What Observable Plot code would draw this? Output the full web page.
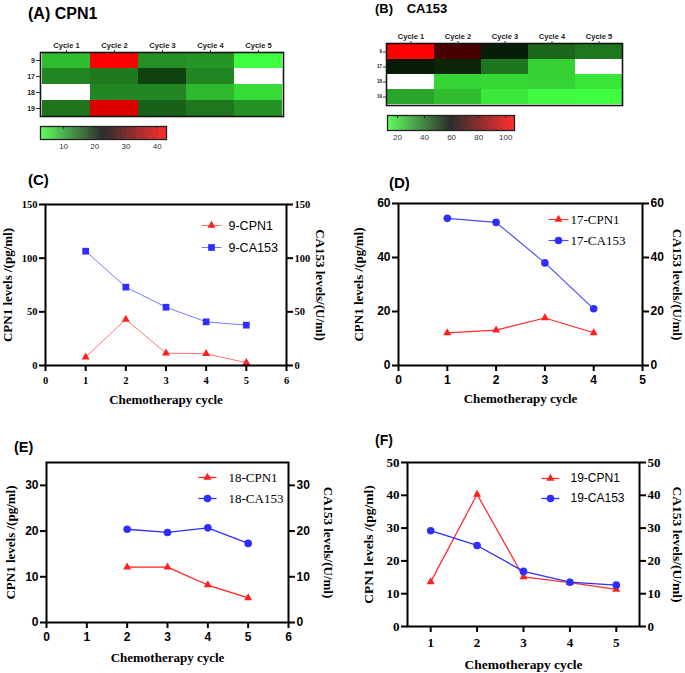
<!DOCTYPE html>
<html><head><meta charset="utf-8">
<script src="https://cdn.jsdelivr.net/npm/d3@7"></script>
<script src="https://cdn.jsdelivr.net/npm/@observablehq/plot@0.6"></script>
<style>
html,body{margin:0;padding:0;background:#fff}
#fig{position:relative;width:685px;height:673px;overflow:hidden;background:#fff}
.panel{position:absolute}
.panel svg{background:transparent !important;overflow:visible}
.ttl{position:absolute;font-family:"Liberation Sans",Arial,sans-serif;font-weight:bold;line-height:1;white-space:pre;color:#000}
</style></head>
<body><div id="fig"></div>
<script>
// ---------- data ----------
const cycles = [1, 2, 3, 4, 5];
const cycleLabels = ["Cycle 1", "Cycle 2", "Cycle 3", "Cycle 4", "Cycle 5"];
const patients = ["9", "17", "18", "19"];

const cpn1_9   = [7.8, 43, 11.5, 11, 2.6];
const ca153_9  = [106.5, 73, 54.3, 40.7, 37.6];
const cpn1_17  = [12.1, 13.1, 17.6, 12.1, null];
const ca153_17 = [54.5, 53, 38, 21, null];
const cpn1_18  = [null, 12.1, 12.1, 8.2, 5.4];
const ca153_18 = [null, 20.4, 19.7, 20.7, 17.3];
const cpn1_19  = [13.6, 40.3, 15.1, 13.4, 11.3];
const ca153_19 = [29.2, 24.7, 16.8, 13.5, 12.6];

const barTicksA = [10, 20, 30, 40];
const barTicksB = [20, 40, 60, 80, 100];
const ticksXC = [0, 1, 2, 3, 4, 5, 6], ticksYC = [0, 50, 100, 150];
const ticksXD = [0, 1, 2, 3, 4, 5],    ticksYD = [0, 20, 40, 60];
const ticksXE = [0, 1, 2, 3, 4, 5, 6], ticksYE = [0, 10, 20, 30];
const ticksXF = [1, 2, 3, 4, 5],       ticksYF = [0, 10, 20, 30, 40, 50];

// ---------- helpers ----------
const SANS = "'Liberation Sans', Arial, sans-serif";
const SERIF = "'Liberation Serif', 'Times New Roman', serif";
const fig = document.getElementById("fig");
const heatInterp = d3.piecewise(d3.interpolateRgb, ["#40ff40", "#000000", "#ff0000"]);
const fmt = d => String(d);

function place(node, left, top, width) {
  const div = document.createElement("div");
  div.className = "panel";
  div.style.left = left + "px"; div.style.top = top + "px"; div.style.width = width + "px";
  div.appendChild(node);
  fig.appendChild(div);
}
function title(text, left, top, size, extra) {
  const d = document.createElement("div");
  d.className = "ttl";
  d.style.left = left + "px"; d.style.top = top + "px"; d.style.fontSize = size + "px";
  if (extra) Object.assign(d.style, extra);
  d.textContent = text;
  fig.appendChild(d);
}

function heatmap(o) {
  const rows = [o.r9, o.r17, o.r18, o.r19];
  const data = patients.flatMap((p, j) => cycleLabels.map((c, i) => ({patient: p, cycle: c, value: rows[j][i]})))
    .filter(d => d.value != null);
  const ext = d3.extent(data, d => d.value);
  const color = {type: "linear", domain: ext, interpolate: heatInterp};
  const hm = Plot.plot({
    width: o.w, height: o.h,
    marginLeft: o.ml, marginRight: o.mr, marginTop: o.mt, marginBottom: o.mb,
    style: {background: "transparent", overflow: "visible"},
    x: {domain: cycleLabels, padding: 0},
    y: {domain: patients, padding: 0},
    color,
    marks: [
      Plot.cell(data, {x: "cycle", y: "patient", fill: "value", inset: 0, shapeRendering: "crispEdges"}),
      Plot.frame({stroke: "#151515", strokeWidth: 1.6}),
      Plot.axisX({anchor: "top", tickSize: 3, tickPadding: 2, label: null, fontSize: 7.5, fontWeight: "bold",
        fontFamily: SANS, fill: "#222", stroke: "#333"}),
      Plot.axisY({anchor: "left", tickSize: o.ytick, tickPadding: 1.5, label: null, fontSize: o.yfs, fontWeight: "bold",
        fontFamily: SANS, fill: "#222", stroke: "#333"})
    ]
  });
  place(hm, o.left, o.top, o.w);

  const [lo, hi] = ext, n = 240, step = (hi - lo) / n;
  const stops = d3.range(n).map(i => lo + i * step);
  const bar = Plot.plot({
    width: o.bw, height: o.bh,
    marginLeft: o.bml, marginRight: o.bmr, marginTop: o.bmt, marginBottom: o.bmb,
    style: {background: "transparent", overflow: "visible"},
    x: {domain: [lo, hi]},
    y: {domain: [0, 1], axis: null},
    color,
    marks: [
      Plot.rect(stops, {x1: d => d, x2: d => d + step * 1.2, y1: 0, y2: 1, fill: d => d + step / 2}),
      Plot.ruleX(o.barTicks, {x: d => d, y1: 1, y2: 0.8, stroke: "#222", strokeWidth: 1}),
      Plot.frame({stroke: "#222", strokeWidth: 1.3}),
      Plot.axisX({ticks: o.barTicks, tickSize: 0, tickPadding: o.bpad, tickFormat: fmt, label: null, fontSize: 8,
        fontFamily: SANS, fill: "#333"})
    ]
  });
  place(bar, o.bleft, o.btop, o.bw);
}

const lineSym = {draw(ctx, size) { const w = Math.sqrt(size / Math.PI); ctx.moveTo(-w, 0); ctx.lineTo(w, 0); }};

function linePanel(o) {
  const cpn = cycles.map((c, i) => ({cycle: c, value: o.cpn[i]})).filter(d => d.value != null);
  const ca = cycles.map((c, i) => ({cycle: c, value: o.ca[i]})).filter(d => d.value != null);
  const tk = {fontFamily: o.tickFont, fontWeight: "bold", fontSize: o.tickSize, fill: "#000", stroke: "#000",
    strokeWidth: 2, tickFormat: fmt, label: null};
  const lab = {fontFamily: SERIF, fontWeight: "bold", fontSize: o.labSize, fill: "#000",
    textAnchor: "middle", lineAnchor: "middle"};
  const leg = {fontFamily: o.legFont, fontSize: o.legSize, fill: "#000", textAnchor: "start",
    lineAnchor: "middle", frameAnchor: "top-right"};
  const RED = "#ff2020", BLUE = "#2e2eff";
  const p = Plot.plot({
    width: o.w, height: o.h,
    marginLeft: o.ml, marginRight: o.mr, marginTop: o.mt, marginBottom: o.mb,
    style: {background: "transparent", overflow: "visible"},
    x: {domain: o.xDomain},
    y: {domain: o.yDomain},
    marks: [
      Plot.line(cpn, {x: "cycle", y: "value", stroke: o.redLine, strokeWidth: o.lw}),
      Plot.line(ca, {x: "cycle", y: "value", stroke: o.blueLine, strokeWidth: o.lw}),
      Plot.dot(cpn, {x: "cycle", y: "value", symbol: "triangle", r: 3, fill: RED}),
      Plot.dot(ca, {x: "cycle", y: "value", symbol: o.caSymbol, r: 3.8, fill: BLUE}),
      Plot.frame({stroke: "#000", strokeWidth: 2}),
      Plot.axisX({ticks: o.xTicks, tickSize: 6, tickPadding: o.xPad, ...tk}),
      Plot.axisY({anchor: "left", ticks: o.yTicks, tickSize: 6, tickPadding: 2, ...tk}),
      Plot.axisY({anchor: "right", ticks: o.yTicks, tickSize: 6, tickPadding: 2, ...tk}),
      // legend
      Plot.dot([0], {frameAnchor: "top-right", dx: o.legDx, dy: o.legDy[0], symbol: lineSym, r: o.legLen / 2,
        stroke: o.redLine, fill: "none", strokeWidth: o.lw}),
      Plot.dot([0], {frameAnchor: "top-right", dx: o.legDx, dy: o.legDy[0], symbol: "triangle", r: 3, fill: RED}),
      Plot.dot([0], {frameAnchor: "top-right", dx: o.legDx, dy: o.legDy[1], symbol: lineSym, r: o.legLen / 2,
        stroke: o.blueLine, fill: "none", strokeWidth: o.lw}),
      Plot.dot([0], {frameAnchor: "top-right", dx: o.legDx, dy: o.legDy[1], symbol: o.caSymbol, r: 3.8, fill: BLUE}),
      Plot.text([o.id + "-CPN1"], {text: d => d, dx: o.legTx, dy: o.legDy[0], ...leg}),
      Plot.text([o.id + "-CA153"], {text: d => d, dx: o.legTx, dy: o.legDy[1], ...leg}),
      // axis titles
      Plot.text(["CPN1 levels /(pg/ml)"], {text: d => d, frameAnchor: "left", dx: o.ylDx, rotate: -90, ...lab}),
      Plot.text(["CA153 levels/(U/ml)"], {text: d => d, frameAnchor: "right", dx: o.yrDx, rotate: 90, ...lab}),
      Plot.text(["Chemotherapy cycle"], {text: d => d, frameAnchor: "bottom", dy: o.xlDy, ...lab})
    ]
  });
  place(p, o.left, o.top, o.w);
}

// ---------- panels ----------
heatmap({r9: cpn1_9, r17: cpn1_17, r18: cpn1_18, r19: cpn1_19,
  left: 0, top: 30, w: 300, h: 95, ml: 40, mr: 17, mt: 22, mb: 9, ytick: 4, yfs: 7,
  barTicks: barTicksA, bleft: 0, btop: 122, bw: 180, bh: 32, bml: 40, bmr: 14, bmt: 4, bmb: 15, bpad: 4});

heatmap({r9: ca153_9, r17: ca153_17, r18: ca153_18, r19: ca153_19,
  left: 340, top: 20, w: 300, h: 90, ml: 46, mr: 18, mt: 23, mb: 5, ytick: 3, yfs: 4.5,
  barTicks: barTicksB, bleft: 340, btop: 111, bw: 190, bh: 32, bml: 47, bmr: 16, bmt: 4, bmb: 13, bpad: 4});

linePanel({id: "9", cpn: cpn1_9, ca: ca153_9, left: 0, top: 190, w: 340, h: 220, ml: 45, mr: 54, mt: 14, mb: 45,
  xDomain: [0, 6], yDomain: [0, 150], xTicks: ticksXC, yTicks: ticksYC, xPad: 5,
  tickFont: SERIF, tickSize: 10.5, labSize: 13, legFont: SANS, legSize: 12.5,
  caSymbol: "square", redLine: "#ff7474", blueLine: "#7b7bff", lw: 1,
  legDx: -75, legTx: -58, legDy: [21, 43], legLen: 20, ylDx: -38, yrDx: 34, xlDy: 34});

linePanel({id: "17", cpn: cpn1_17, ca: ca153_17, left: 340, top: 190, w: 345, h: 220, ml: 58, mr: 43, mt: 13, mb: 45,
  xDomain: [0, 5], yDomain: [0, 60], xTicks: ticksXD, yTicks: ticksYD, xPad: 4,
  tickFont: SANS, tickSize: 12, labSize: 13, legFont: SERIF, legSize: 13,
  caSymbol: "circle", redLine: "#ff2a2a", blueLine: "#4848ff", lw: 1.1,
  legDx: -84, legTx: -72, legDy: [16, 37], legLen: 20, ylDx: -40, yrDx: 35, xlDy: 33});

linePanel({id: "18", cpn: cpn1_18, ca: ca153_18, left: 0, top: 448, w: 340, h: 225, ml: 46, mr: 52, mt: 14, mb: 51,
  xDomain: [0, 6], yDomain: [0, 35], xTicks: ticksXE, yTicks: ticksYE, xPad: 4,
  tickFont: SANS, tickSize: 12, labSize: 13, legFont: SERIF, legSize: 13,
  caSymbol: "circle", redLine: "#ff2020", blueLine: "#2e2eff", lw: 1.3,
  legDx: -81, legTx: -60, legDy: [15, 36], legLen: 18, ylDx: -36, yrDx: 40, xlDy: 35});

linePanel({id: "19", cpn: cpn1_19, ca: ca153_19, left: 340, top: 448, w: 345, h: 225, ml: 67, mr: 46, mt: 14, mb: 47,
  xDomain: [0.5, 5.5], yDomain: [0, 50], xTicks: ticksXF, yTicks: ticksYF, xPad: 5,
  tickFont: SERIF, tickSize: 13, labSize: 13.5, legFont: SANS, legSize: 12,
  caSymbol: "circle", redLine: "#ff3030", blueLine: "#2e2eff", lw: 1.3,
  legDx: -89, legTx: -69, legDy: [16, 36], legLen: 18, ylDx: -39, yrDx: 38, xlDy: 38});

// ---------- panel titles ----------
title("(A) CPN1", 28, 5.8, 16);
title("(B) CA153", 375, 2.3, 13, {wordSpacing: "10px"});
title("(C)", 28, 172.3, 15);
title("(D)", 389, 175.3, 15);
title("(E)", 14, 439.7, 14.5);
title("(F)", 375, 433, 14);
</script>
</body></html>
